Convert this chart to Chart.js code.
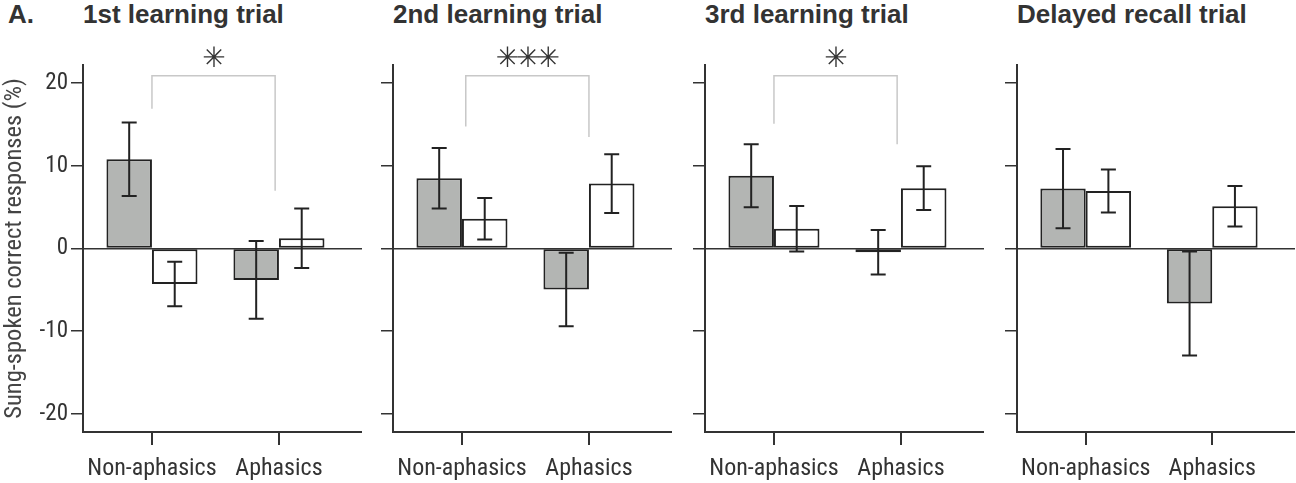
<!DOCTYPE html>
<html>
<head>
<meta charset="utf-8">
<script src="https://cdn.jsdelivr.net/npm/chart.js@4.4.1/dist/chart.umd.min.js"></script>
<style>
  body { margin: 0; background: #fff; width: 1296px; height: 483px; position: relative; overflow: hidden; }
  .ttl { position: absolute; top: 0; font: bold 26px 'Liberation Sans', Arial, sans-serif; line-height: 28px; color: #333; white-space: nowrap; }
  canvas { position: absolute; top: 0; }
</style>
</head>
<body>
<div class="ttl" style="left:8px">A.</div>
<div class="ttl" id="t0"></div>
<div class="ttl" id="t1"></div>
<div class="ttl" id="t2"></div>
<div class="ttl" id="t3"></div>
<canvas id="c0"></canvas>
<canvas id="c1"></canvas>
<canvas id="c2"></canvas>
<canvas id="c3"></canvas>
<script>
// data
const trials = ['1st learning trial', '2nd learning trial', '3rd learning trial', 'Delayed recall trial'];
const groups = ['Non-aphasics', 'Aphasics'];
const yTicks = [-20, -10, 0, 10, 20];

// grey bars
const greyMeans = [[10.8, -3.8], [8.5, -4.95], [8.8, -0.45], [7.25, -6.65]];
const greyErrors = [[4.45, 4.7], [3.65, 4.45], [3.8, 2.7], [4.8, 6.3]];
// white bars
const whiteMeans = [[-4.3, 1.25], [3.6, 7.85], [2.4, 7.3], [6.95, 5.1]];
const whiteErrors = [[2.7, 3.6], [2.5, 3.55], [2.75, 2.65], [2.6, 2.45]];

// significance brackets (one per panel, null = none)
const sigLabels = ['\u2733\uFE0E', '\u2733\uFE0E\u2733\uFE0E\u2733\uFE0E', '\u2733\uFE0E', null];
const bracketTop = 20.9;
const bracketX = [[1.0, 1.97], [1.03, 2.0], [1.0, 1.97], null];
const bracketLegs = [[16.9, 7.0], [14.75, 13.5], [15.1, 12.6], null];
const starY = 22.8;

// layout of the four panels
const axisLeft = [83, 393, 705, 1017];
const plotWidth = [279, 279, 279, 278];
const plotTop = 65, plotBottom = 432;

const ink = '#333';
const cond = "'Roboto Condensed', 'Liberation Sans', sans-serif";

// error bars on top of every bar
const errorBars = {
    id: 'errorBars',
    afterDatasetsDraw(chart) {
        const ctx = chart.ctx;
        const yScale = chart.scales.y;
        chart.data.datasets.forEach((ds, i) => {
            if (!ds.errors) return;
            chart.getDatasetMeta(i).data.forEach((bar, j) => {
                const v = ds.data[j].y;
                const top = yScale.getPixelForValue(v + ds.errors[j]);
                const bot = yScale.getPixelForValue(v - ds.errors[j]);
                ctx.save();
                ctx.strokeStyle = '#222';
                ctx.lineWidth = 2;
                ctx.beginPath();
                ctx.moveTo(bar.x, top); ctx.lineTo(bar.x, bot);
                ctx.moveTo(bar.x - 7.5, top); ctx.lineTo(bar.x + 7.5, top);
                ctx.moveTo(bar.x - 7.5, bot); ctx.lineTo(bar.x + 7.5, bot);
                ctx.stroke();
                ctx.restore();
            });
        });
    }
};

// stars above the brackets
const stars = {
    id: 'stars',
    afterDraw(chart, args, opts) {
        if (!opts.text) return;
        const ctx = chart.ctx;
        const x = chart.scales.x.getPixelForValue((opts.x[0] + opts.x[1]) / 2);
        const y = chart.scales.y.getPixelForValue(opts.y);
        ctx.save();
        ctx.font = "28px 'DejaVu Sans'";
        ctx.letterSpacing = '-3px';
        ctx.fillStyle = ink;
        ctx.textAlign = 'center';
        ctx.textBaseline = 'middle';
        ctx.fillText(opts.text, x - 1, y);
        ctx.restore();
    }
};

function makePanel(p) {
    const first = p === 0;
    const yw = first ? 83 : 13;
    const canvas = document.getElementById('c' + p);
    canvas.style.left = (axisLeft[p] - yw) + 'px';
    canvas.width = yw + plotWidth[p];
    canvas.height = 483;
    canvas.style.width = canvas.width + 'px';
    canvas.style.height = '483px';

    const title = document.getElementById('t' + p);
    title.textContent = trials[p];
    title.style.left = axisLeft[p] + 'px';

    const datasets = [
        {
            type: 'bar',
            data: greyMeans[p].map((v, j) => ({ x: j + 1, y: v })),
            errors: greyErrors[p],
            backgroundColor: '#b3b5b3',
            borderColor: '#222',
            borderWidth: 2,
            borderSkipped: false
        },
        {
            type: 'bar',
            data: whiteMeans[p].map((v, j) => ({ x: j + 1, y: v })),
            errors: whiteErrors[p],
            backgroundColor: '#fff',
            borderColor: '#222',
            borderWidth: 2,
            borderSkipped: false
        }
    ];
    if (bracketX[p]) {
        datasets.push({
            type: 'line',
            data: [
                { x: bracketX[p][0], y: bracketLegs[p][0] },
                { x: bracketX[p][0], y: bracketTop },
                { x: bracketX[p][1], y: bracketTop },
                { x: bracketX[p][1], y: bracketLegs[p][1] }
            ],
            borderColor: '#c8c8c8',
            borderWidth: 1.5,
            pointRadius: 0,
            tension: 0
        });
    }

    new Chart(canvas, {
        type: 'bar',
        data: { datasets: datasets },
        options: {
            responsive: false,
            animation: false,
            events: [],
            layout: { padding: { top: plotTop, left: 0, right: 0, bottom: 0 } },
            datasets: { bar: { categoryPercentage: 0.717, barPercentage: 1 } },
            plugins: {
                legend: { display: false },
                tooltip: { enabled: false },
                stars: { text: sigLabels[p], x: bracketX[p], y: starY }
            },
            scales: {
                x: {
                    type: 'linear',
                    offset: false,
                    min: 0.457,
                    max: 2.654,
                    afterBuildTicks: axis => { axis.ticks = [{ value: 1 }, { value: 2 }]; },
                    afterFit: axis => { axis.height = 483 - plotBottom; },
                    ticks: {
                        callback: v => groups[v - 1],
                        font: { family: cond, size: 24 },
                        color: ink,
                        padding: 10,
                        maxRotation: 0,
                        autoSkip: false
                    },
                    grid: { offset: false, drawOnChartArea: false, tickLength: 13, tickColor: ink, lineWidth: 2 },
                    border: { color: ink, width: 2 }
                },
                y: {
                    min: -22.2,
                    max: 22.2,
                    afterBuildTicks: axis => { axis.ticks = yTicks.map(v => ({ value: v })); },
                    afterFit: axis => { axis.width = yw; },
                    ticks: {
                        display: first,
                        font: { family: cond, size: 23 },
                        color: ink,
                        padding: 3
                    },
                    grid: {
                        color: c => (c.tick && c.tick.value === 0 ? ink : 'rgba(0,0,0,0)'),
                        lineWidth: 1.5,
                        tickColor: ink,
                        tickLength: 12
                    },
                    border: { color: ink, width: 2 },
                    title: {
                        display: first,
                        text: 'Sung-spoken correct responses (%)',
                        font: { family: cond, size: 24.5, lineHeight: 1.05 },
                        color: '#444',
                        padding: { top: 2, bottom: 0 }
                    }
                }
            }
        },
        plugins: [errorBars, stars]
    });
}

for (let p = 0; p < 4; p++) makePanel(p);
</script>
</body>
</html>
